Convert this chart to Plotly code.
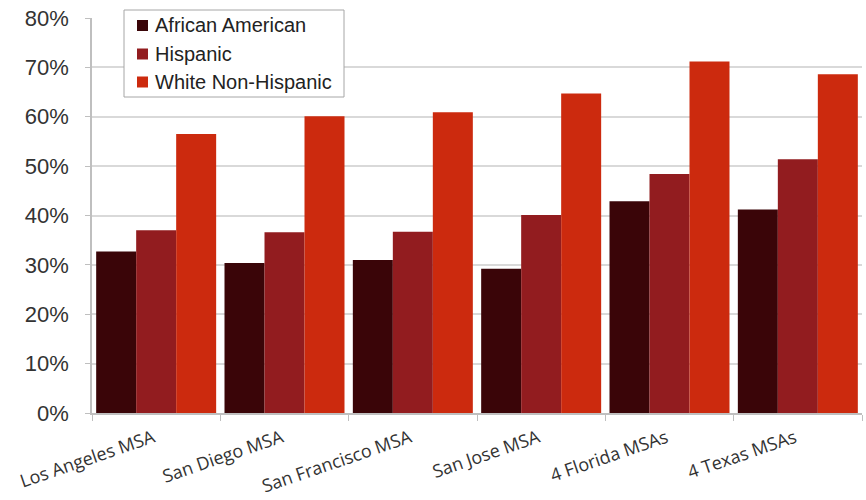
import plotly.graph_objects as go

categories = ["Los Angeles MSA", "San Diego MSA", "San Francisco MSA",
              "San Jose MSA", "4 Florida MSAs", "4 Texas MSAs"]
african_american = [0.327, 0.304, 0.310, 0.292, 0.429, 0.412]
hispanic = [0.370, 0.366, 0.367, 0.401, 0.484, 0.514]
white_non_hispanic = [0.565, 0.601, 0.609, 0.647, 0.712, 0.686]
y_ticks = [0, 0.1, 0.2, 0.3, 0.4, 0.5, 0.6, 0.7, 0.8]
y_tick_labels = ["0%", "10%", "20%", "30%", "40%", "50%", "60%", "70%", "80%"]
series_names = ["African American", "Hispanic", "White Non-Hispanic"]
series_colors = ["#3a0508", "#921c1f", "#cc2a0e"]
series_values = [african_american, hispanic, white_non_hispanic]

W, H = 866, 500
ML, MR, MT, MB = 92, 4, 18, 87
PW, PH = W - ML - MR, H - MT - MB


def px_x(px):
    return (px - ML) / PW


def px_y(py):
    return (H - MB - py) / PH


fig = go.Figure()
for name, vals, color in zip(series_names, series_values, series_colors):
    fig.add_trace(go.Bar(x=categories, y=vals, name=name,
                         marker=dict(color=color, line=dict(width=0))))

# custom legend box
shapes = [dict(type="rect", xref="paper", yref="paper",
               x0=px_x(124), x1=px_x(344), y0=px_y(97), y1=px_y(10),
               line=dict(color="#a6a6a6", width=1), fillcolor="white", layer="above")]
annotations = []
row_y = [25.5, 54, 82]
for name, color, ry in zip(series_names, series_colors, row_y):
    shapes.append(dict(type="rect", xref="paper", yref="paper",
                       x0=px_x(137), x1=px_x(148), y0=px_y(ry + 5.5), y1=px_y(ry - 5.5),
                       line=dict(width=0), fillcolor=color, layer="above"))
    annotations.append(dict(xref="paper", yref="paper", x=px_x(153), y=px_y(ry),
                            text=name, showarrow=False, xanchor="left", yanchor="middle",
                            font=dict(size=20, color="#222222",
                                      family="Liberation Sans, Arial, sans-serif")))

fig.update_layout(
    width=W, height=H,
    margin=dict(l=ML, r=MR, t=MT, b=MB, autoexpand=False),
    paper_bgcolor="white", plot_bgcolor="white",
    barmode="group", bargap=0.065, bargroupgap=0,
    font=dict(family="Liberation Sans, Arial, sans-serif", color="#333333"),
    showlegend=False,
    shapes=shapes, annotations=annotations,
)
fig.update_xaxes(
    range=[-0.5, 5.5], automargin=False,
    tickangle=-19, tickfont=dict(family="Open Sans, sans-serif", size=18, color="#333333"),
    ticklabelshift=-3, ticklabelstandoff=6,
    showline=True, linecolor="#bfbfbf", linewidth=1.5,
    ticks="outside", tickson="boundaries", ticklen=6, tickcolor="#bfbfbf",
    showgrid=False,
)
fig.update_yaxes(
    range=[0, 0.8], tickvals=y_ticks, ticktext=y_tick_labels, automargin=False,
    tickfont=dict(size=22, color="#333333"), ticklabelstandoff=12,
    showline=True, linecolor="#bfbfbf", linewidth=1.5,
    ticks="outside", ticklen=5, tickcolor="#bfbfbf",
    showgrid=True, gridcolor="#d9d9d9", gridwidth=1.5, zeroline=False,
)

fig.write_html("out.html", config={"displayModeBar": False},
               post_script="document.body.style.margin='0';")
